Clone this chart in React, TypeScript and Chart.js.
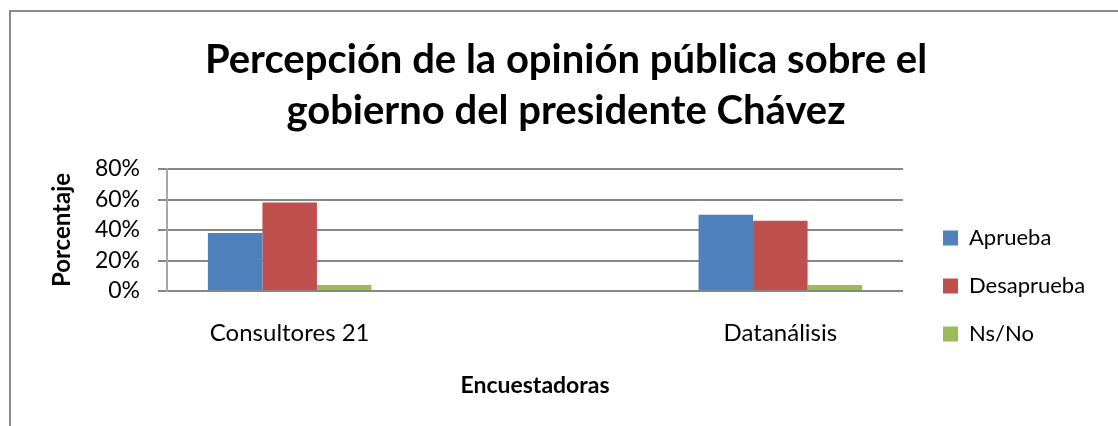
import React, { useEffect, useRef } from "react";
import { Chart, registerables } from "chart.js";

Chart.register(...registerables);

const categories = ["Consultores 21", "", "Datanálisis"];
const seriesNames = ["Aprueba", "Desaprueba", "Ns/No"];
const aprueba = [0.38, null, 0.5];
const desaprueba = [0.58, null, 0.46];
const nsNo = [0.04, null, 0.04];
const seriesColors = ["#4F81BD", "#C0504D", "#9BBB59"];
const titleLines = ["Percepción de la opinión pública sobre el", "gobierno del presidente Chávez"];
const yTitle = "Porcentaje";
const xTitle = "Encuestadoras";

const FONT = "Lato, 'Open Sans', sans-serif";

export default function App() {
  const ref = useRef<HTMLCanvasElement | null>(null);

  useEffect(() => {
    if (!ref.current) return;
    const seriesData = [aprueba, desaprueba, nsNo];
    const chart = new Chart(ref.current, {
      type: "bar",
      data: {
        labels: categories,
        datasets: seriesNames.map((name, i) => ({
          label: name,
          data: seriesData[i],
          backgroundColor: seriesColors[i],
          borderWidth: 0,
          categoryPercentage: 3 / 4.5,
          barPercentage: 1,
          yAxisID: "y",
        })),
      },
      options: {
        responsive: false,
        animation: false,
        layout: { padding: { left: 30, right: 30, top: 0, bottom: 0 } },
        plugins: {
          tooltip: { enabled: false },
          title: {
            display: true,
            text: titleLines,
            color: "#000",
            font: { family: FONT, weight: "bold", size: 40, lineHeight: 51 / 40 },
            padding: { top: 23, bottom: 32 },
          },
          legend: {
            display: true,
            position: "right",
            align: "center",
            maxWidth: 174,
            title: {
              display: true,
              text: "",
              font: { family: FONT, size: 10, lineHeight: 1 },
              padding: { top: 118, bottom: 0 },
            },
            labels: {
              color: "#000",
              boxWidth: 15,
              boxHeight: 15,
              padding: 26,
              font: { family: FONT, size: 22 },
            },
          },
        },
        scales: {
          x: {
            type: "category",
            offset: true,
            grid: { display: false, drawTicks: false },
            border: { display: false },
            ticks: {
              color: "#000",
              padding: 28,
              maxRotation: 0,
              autoSkip: false,
              font: { family: FONT, size: 24 },
            },
            title: {
              display: true,
              text: xTitle,
              color: "#000",
              font: { family: FONT, weight: "bold", size: 23 },
              padding: { top: 0, bottom: 33 },
            },
            afterFit: (s: any) => {
              s.height = 141;
            },
          },
          y: {
            position: "left",
            min: 0,
            max: 0.8,
            grid: {
              color: "#868686",
              lineWidth: 2,
              drawTicks: true,
              tickLength: 9,
            },
            border: { display: true, color: "#a6a6a6", width: 2 },
            ticks: {
              stepSize: 0.2,
              autoSkip: false,
              color: "#000",
              padding: 18,
              font: { family: FONT, size: 23 },
              callback: (v: any) => Math.round(Number(v) * 100) + "%",
            },
            title: {
              display: true,
              text: yTitle,
              color: "#000",
              font: { family: FONT, weight: "bold", size: 24 },
              padding: { top: 7, bottom: 0 },
            },
            afterFit: (s: any) => {
              s.width = 126;
            },
          },
          y2: {
            position: "right",
            display: true,
            grid: { display: false, drawTicks: false },
            border: { display: false },
            ticks: { display: false },
            afterFit: (s: any) => {
              s.width = 14;
            },
          },
        },
      },
    });
    return () => chart.destroy();
  }, []);

  return (
    <div
      style={{
        position: "absolute",
        left: 0,
        top: 0,
        width: 1118,
        height: 426,
        overflow: "hidden",
        background: "#fff",
      }}
    >
      <div
        style={{
          position: "absolute",
          left: 9,
          top: 10,
          width: 1200,
          height: 500,
          borderTop: "2px solid #8c8c8c",
          borderLeft: "2px solid #8c8c8c",
          background: "#fff",
        }}
      >
        <canvas
          ref={ref}
          width={1110}
          height={420}
          style={{ display: "block", position: "absolute", left: 0, top: 0 }}
        />
      </div>
    </div>
  );
}
